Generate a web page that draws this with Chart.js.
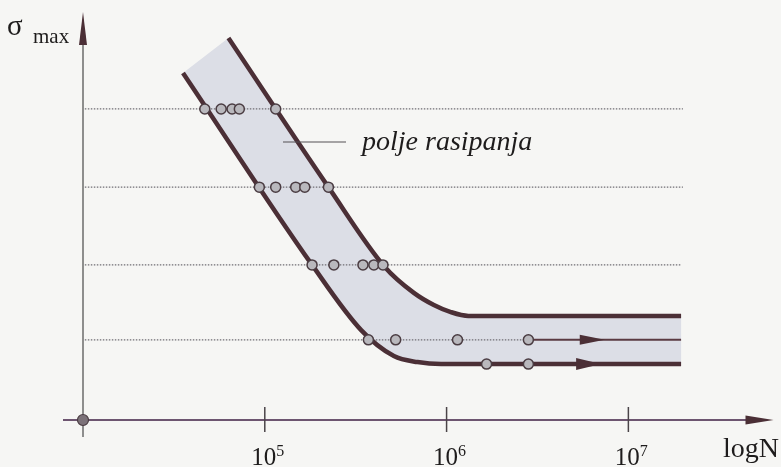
<!DOCTYPE html>
<html>
<head>
<meta charset="utf-8">
<script src="https://cdn.jsdelivr.net/npm/chart.js@4.4.0/dist/chart.umd.min.js"></script>
<style>
  html, body { margin: 0; padding: 0; background: #f6f6f4; }
  canvas { display: block; }
</style>
</head>
<body>
<canvas id="wohler" width="781" height="467"></canvas>
<script>
// x = log10(N), y = sigma_max in arbitrary units (no scale shown in the figure)
const xTicks = [5, 6, 7];
const levels = [7.68, 5.75, 3.83, 1.98];          // test stress levels (dotted)
const levelStart = 4.01;
const levelEnd = [7.30, 7.30, 7.29, 6.45];

// test results on each level
const dots1 = [4.67, 4.76, 4.82, 4.86, 5.06];
const dots2 = [4.97, 5.06, 5.17, 5.22, 5.35];
const dots3 = [5.26, 5.38, 5.54, 5.60, 5.65];
const dots4 = [5.57, 5.72, 6.06, 6.45];
const runoutY = 1.38;
const runoutDots = [6.22, 6.45];

// scatter band boundaries
const upperX = [4.80, 5.35, 5.66, 5.82, 5.93, 6.02, 6.12, 7.29];
const upperY = [9.43, 5.75, 3.78, 3.14, 2.84, 2.67, 2.57, 2.57];
const lowerX = [4.55, 5.26, 5.53, 5.71, 5.84, 5.97, 7.29];
const lowerY = [8.57, 3.83, 2.22, 1.58, 1.43, 1.38, 1.38];
const midX = [6.45, 7.29];

// arrow tips on the two run-out lines
const arrowX = [6.87, 6.85];
const arrowY = [levels[3], runoutY];

const toPts = (xs, ys) => xs.map((x, i) => ({x: x, y: Array.isArray(ys) ? ys[i] : ys}));

const dotPts = []
    .concat(toPts(dots1, levels[0]))
    .concat(toPts(dots2, levels[1]))
    .concat(toPts(dots3, levels[2]))
    .concat(toPts(dots4, levels[3]));

const upperPts = toPts(upperX, upperY);
const lowerPts = toPts(lowerX, lowerY);
const bandPts = upperPts.concat(lowerPts.slice().reverse());

const LINE = '#4b2f36';
const INK = '#1e1c1c';
const SERIF = '"Liberation Serif", "DejaVu Serif", serif';

const dotStyle = {
    showLine: false,
    pointRadius: 5,
    pointBackgroundColor: '#b9b8bd',
    pointBorderColor: '#4a3c42',
    pointBorderWidth: 1.5,
    clip: false
};

const curveStyle = {
    showLine: true,
    pointRadius: 0,
    borderColor: LINE,
    borderWidth: 4.5,
    cubicInterpolationMode: 'monotone',
    borderCapStyle: 'butt',
    clip: false
};

const levelSets = levels.map((y, i) => ({
    data: [{x: levelStart, y: y}, {x: levelEnd[i], y: y}],
    showLine: true,
    pointRadius: 0,
    borderColor: '#6f6d73',
    borderWidth: 1.2,
    borderDash: [1.5, 1.5],
    clip: false
}));

// fills the band polygon and draws axes, ticks, arrows and text
const figurePlugin = {
    id: 'figure',
    beforeDatasetsDraw(chart) {
        const ctx = chart.ctx;
        const band = chart.getDatasetMeta(chart.data.datasets.length - 1).dataset;
        band.updateControlPoints(chart.chartArea, 'x');
        ctx.save();
        ctx.fillStyle = '#dcdee6';
        ctx.beginPath();
        band.path(ctx);
        ctx.closePath();
        ctx.fill();
        ctx.restore();

        const xs = chart.scales.x, ys = chart.scales.y;
        const ox = xs.getPixelForValue(4), oy = ys.getPixelForValue(0);
        const area = chart.chartArea;
        ctx.save();
        // y axis
        ctx.strokeStyle = '#6b6b6b';
        ctx.lineWidth = 1.5;
        ctx.beginPath();
        ctx.moveTo(ox, oy + 17);
        ctx.lineTo(ox, area.top + 30);
        ctx.stroke();
        ctx.fillStyle = LINE;
        ctx.beginPath();
        ctx.moveTo(ox, area.top - 3);
        ctx.lineTo(ox - 4, area.top + 30);
        ctx.lineTo(ox + 4, area.top + 30);
        ctx.closePath();
        ctx.fill();
        // x axis
        ctx.strokeStyle = '#6d5570';
        ctx.lineWidth = 2;
        ctx.beginPath();
        ctx.moveTo(ox - 20, oy);
        ctx.lineTo(area.right - 24, oy);
        ctx.stroke();
        ctx.beginPath();
        ctx.moveTo(area.right - 1, oy);
        ctx.lineTo(area.right - 29, oy - 4.5);
        ctx.lineTo(area.right - 29, oy + 4.5);
        ctx.closePath();
        ctx.fill();
        // ticks
        ctx.strokeStyle = '#4a4448';
        ctx.lineWidth = 1.5;
        xTicks.forEach(t => {
            const px = xs.getPixelForValue(t);
            ctx.beginPath();
            ctx.moveTo(px, oy - 13);
            ctx.lineTo(px, oy + 12);
            ctx.stroke();
        });
        ctx.restore();
    },
    afterDatasetsDraw(chart) {
        const ctx = chart.ctx;
        const xs = chart.scales.x, ys = chart.scales.y;
        const ox = xs.getPixelForValue(4), oy = ys.getPixelForValue(0);
        ctx.save();
        // arrowheads on run-out lines
        ctx.fillStyle = LINE;
        arrowX.forEach((x, i) => {
            const px = xs.getPixelForValue(x), py = ys.getPixelForValue(arrowY[i]);
            const half = i === 0 ? 5 : 6;
            ctx.beginPath();
            ctx.moveTo(px, py);
            ctx.lineTo(px - 25, py - half);
            ctx.lineTo(px - 25, py + half);
            ctx.closePath();
            ctx.fill();
        });
        // origin dot
        ctx.fillStyle = '#7c7279';
        ctx.strokeStyle = '#4a3c42';
        ctx.lineWidth = 1.2;
        ctx.beginPath();
        ctx.arc(ox, oy, 5.5, 0, Math.PI * 2);
        ctx.fill();
        ctx.stroke();

        // tick labels 10^n
        ctx.fillStyle = INK;
        ctx.textBaseline = 'alphabetic';
        xTicks.forEach(t => {
            const px = xs.getPixelForValue(t);
            ctx.font = '25px ' + SERIF;
            const w1 = ctx.measureText('10').width;
            ctx.font = '16px ' + SERIF;
            const w2 = ctx.measureText(String(t)).width;
            const left = px + 3 - (w1 + w2) / 2;
            ctx.font = '25px ' + SERIF;
            ctx.fillText('10', left, oy + 45);
            ctx.font = '16px ' + SERIF;
            ctx.fillText(String(t), left + w1, oy + 36);
        });
        ctx.font = '28px ' + SERIF;
        ctx.textAlign = 'right';
        ctx.fillText('logN', 779, oy + 37);

        // y axis title
        ctx.textAlign = 'left';
        ctx.font = '29px ' + SERIF;
        ctx.fillText('\u03c3', 7, 35);
        ctx.font = '21px ' + SERIF;
        ctx.fillText('max', 33, 43);

        // band label with leader line
        ctx.strokeStyle = '#555055';
        ctx.lineWidth = 1.2;
        ctx.beginPath();
        ctx.moveTo(283, 142);
        ctx.lineTo(346, 142);
        ctx.stroke();
        ctx.font = 'italic 28px ' + SERIF;
        ctx.fillText('polje rasipanja', 362, 150);
        ctx.restore();
    }
};

new Chart(document.getElementById('wohler'), {
    type: 'scatter',
    data: {
        datasets: [
            Object.assign({data: dotPts}, dotStyle),
            Object.assign({data: toPts(runoutDots, runoutY)}, dotStyle),
            Object.assign({data: upperPts}, curveStyle),
            Object.assign({data: lowerPts}, curveStyle),
            {
                data: toPts(midX, levels[3]),
                showLine: true,
                pointRadius: 0,
                borderColor: '#5a3a42',
                borderWidth: 2,
                clip: false
            }
        ].concat(levelSets).concat([
            {
                // band outline, only used to fill the scatter field
                data: bandPts,
                showLine: true,
                pointRadius: 0,
                borderWidth: 0,
                cubicInterpolationMode: 'monotone',
                clip: false
            }
        ])
    },
    options: {
        responsive: false,
        animation: false,
        events: [],
        layout: { padding: { left: 83, right: 0, top: 15, bottom: 47 } },
        plugins: {
            legend: { display: false },
            tooltip: { enabled: false }
        },
        scales: {
            x: { type: 'linear', min: 4, max: 4 + 698 / 183.5, display: false },
            y: { type: 'linear', min: 0, max: 10, display: false }
        }
    },
    plugins: [figurePlugin]
});
</script>
</body>
</html>
